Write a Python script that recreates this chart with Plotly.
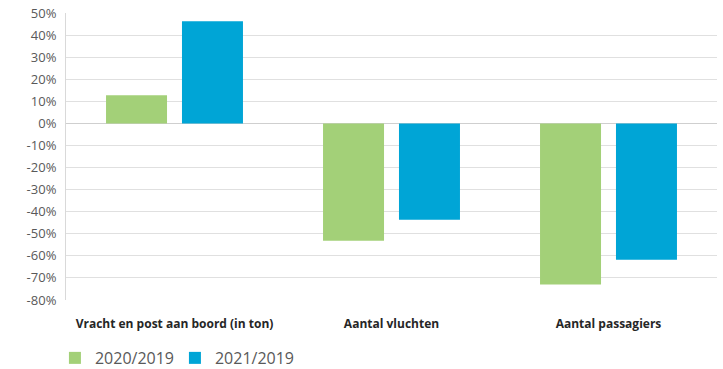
import plotly.graph_objects as go

categories = ["Vracht en post aan boord (in ton)", "Aantal vluchten", "Aantal passagiers"]
series_names = ["2020/2019", "2021/2019"]
values_2020 = [12.8, -53.2, -73.0]
values_2021 = [46.3, -43.6, -61.8]
tick_vals = list(range(-80, 51, 10))
tick_text = [f"{v}%" for v in tick_vals]

colors = ["#A3D078", "#00A5D6"]

fig = go.Figure()
for name, vals, c in zip(series_names, [values_2020, values_2021], colors):
    fig.add_trace(go.Bar(x=categories, y=vals, name=name, marker=dict(color=c, line=dict(width=0))))

fig.update_layout(
    width=723, height=369,
    margin=dict(l=66, r=6, t=13, b=69, autoexpand=False),
    paper_bgcolor="white", plot_bgcolor="white",
    barmode="group", bargap=0.30, bargroupgap=0.197,
    font=dict(family="Open Sans", color="#595959"),
    showlegend=True,
    legend=dict(orientation="h", x=-0.017, xanchor="left", y=-0.202, yanchor="middle",
                font=dict(size=16, color="#595959"), itemwidth=30, traceorder="normal",
                entrywidthmode="pixels", entrywidth=75),
    xaxis=dict(showgrid=False, showline=False, ticks="", zeroline=False, automargin=False,
               tickfont=dict(size=12, color="#262626", family="Open Sans", weight="bold"),
               ticklabelstandoff=15),
    yaxis=dict(range=[-80, 50], tickvals=tick_vals, ticktext=tick_text, automargin=False,
               showgrid=True, gridcolor="#E0E0E0", gridwidth=1,
               zeroline=True, zerolinecolor="#CFCFCF", zerolinewidth=1,
               showline=True, linecolor="#D9D9D9", linewidth=1,
               ticks="", ticklabelstandoff=6, tickfont=dict(size=13, color="#595959")),
)

fig.write_html("out.html", config={"displayModeBar": False},
               post_script="document.body.style.margin='0px';")
